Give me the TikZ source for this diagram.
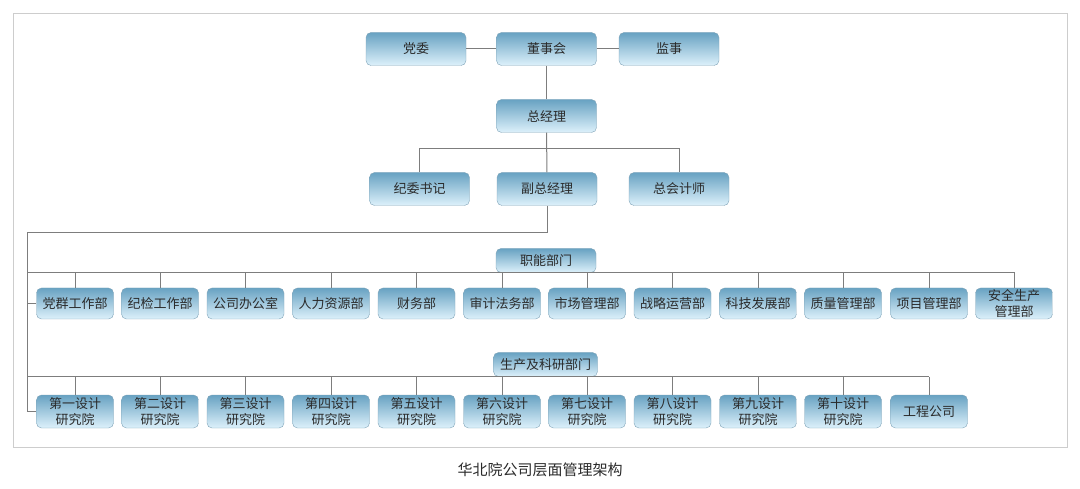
\documentclass[tikz,border=0pt]{standalone}
\usepackage{fontspec}
\setmainfont{Noto Sans CJK SC}
\definecolor{boxtop}{HTML}{68A2C2}
\definecolor{boxmid}{HTML}{B0D6EA}
\definecolor{boxbot}{HTML}{DDF1FB}
\definecolor{boxline}{HTML}{7FA3B7}
\definecolor{linkgray}{HTML}{7D7D7D}
\definecolor{framegray}{HTML}{CDCDCD}
\definecolor{textgray}{HTML}{2A2A2A}

\begin{document}
\begin{tikzpicture}[x=1pt, y=-1pt, every node/.style={inner sep=0pt, align=center,
					text=textgray, font=\fontsize{13}{15.5}\selectfont},
		unit/.style={draw=boxline, rounded corners=5pt, top color=boxtop,
					middle color=boxmid, bottom color=boxbot},
		big/.style={unit, minimum width=100pt, minimum height=33pt},
		dept/.style={unit, minimum width=77pt, minimum height=31pt},
		inst/.style={unit, minimum width=77pt, minimum height=33pt},
		link/.style={draw=linkgray, line width=1pt}]
		\useasboundingbox (0,0) rectangle (1080,489);
		\draw[framegray] (13,13) rectangle (1067,447);

		\node[big] (dw) at (416,49) {党委};
		\node[big] (dsh) at (546.5,49) {董事会};
		\node[big] (js) at (669,49) {监事};
		\node[big] (zjl) at (546.5,116) {总经理};
		\node[big] (jw) at (419.5,189) {纪委书记};
		\node[big] (fzjl) at (547,189) {副总经理};
		\node[big] (zkjs) at (679,189) {总会计师};
		\node[big, minimum height=24pt] (znbm) at (546,260.5) {职能部门};
		\node[big, minimum width=104pt, minimum height=24pt] (scbm) at (545.5,364.5) {生产及科研部门};

		\node[dept] (d1) at (75,303.5) {党群工作部};
		\node[dept] (d2) at (160,303.5) {纪检工作部};
		\node[dept] (d3) at (245.5,303.5) {公司办公室};
		\node[dept] (d4) at (331,303.5) {人力资源部};
		\node[dept] (d5) at (416.5,303.5) {财务部};
		\node[dept] (d6) at (502,303.5) {审计法务部};
		\node[dept] (d7) at (587,303.5) {市场管理部};
		\node[dept] (d8) at (672.5,303.5) {战略运营部};
		\node[dept] (d9) at (758,303.5) {科技发展部};
		\node[dept] (d10) at (843,303.5) {质量管理部};
		\node[dept] (d11) at (929,303.5) {项目管理部};
		\node[dept] (d12) at (1014,303.5) {安全生产\\管理部};

		\node[inst] (i1) at (75,411.5) {第一设计\\研究院};
		\node[inst] (i2) at (160,411.5) {第二设计\\研究院};
		\node[inst] (i3) at (245.5,411.5) {第三设计\\研究院};
		\node[inst] (i4) at (331,411.5) {第四设计\\研究院};
		\node[inst] (i5) at (416.5,411.5) {第五设计\\研究院};
		\node[inst] (i6) at (502,411.5) {第六设计\\研究院};
		\node[inst] (i7) at (587,411.5) {第七设计\\研究院};
		\node[inst] (i8) at (672.5,411.5) {第八设计\\研究院};
		\node[inst] (i9) at (758,411.5) {第九设计\\研究院};
		\node[inst] (i10) at (843,411.5) {第十设计\\研究院};
		\node[inst] (i11) at (929,411.5) {工程公司};

		\coordinate (mbus) at (0,149);
		\coordinate (trunk) at (27.5,233);
		\coordinate (fbus) at (27.5,272.5);
		\coordinate (pbus) at (27.5,376.5);

		\draw[link] (dw) -- (dsh);
		\draw[link] (dsh) -- (js);
		\draw[link] (dsh) -- (zjl);
		\draw[link] (zjl) -- (fzjl);
		\draw[link] (jw.north) -- (jw.north |- mbus) -- (zkjs.north |- mbus) -- (zkjs.north);
		\draw[link] (fzjl.south) |- (trunk) |- (i1.west);
		\draw[link] (trunk |- d1.west) -- (d1.west);
		\draw[link] (fbus) -- (d12.north |- fbus);
		\draw[link] (pbus) -- (i11.north |- pbus);
		\foreach \n in {d1,d2,d3,d4,d5,d6,d7,d8,d9,d10,d11,d12}
			\draw[link] (\n.north) -- (\n.north |- fbus);
		\foreach \n in {i1,i2,i3,i4,i5,i6,i7,i8,i9,i10,i11}
			\draw[link] (\n.north) -- (\n.north |- pbus);

		\node[font=\fontsize{15}{18}\selectfont] (cap) at (540,470) {华北院公司层面管理架构};
	\end{tikzpicture}
\end{document}
